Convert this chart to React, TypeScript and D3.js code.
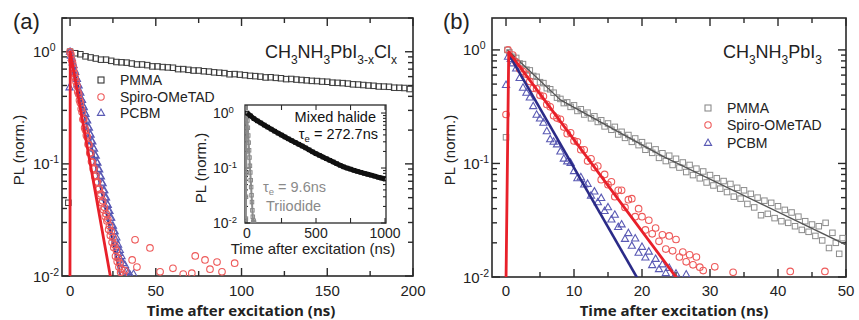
import { useEffect, useRef } from 'react'
import * as d3 from 'd3'

type Pt = [number, number]

// ---- panel (a): CH3NH3PbI3-xClx ----
const pmmaA: Pt[] = [[-1,0.045],[0,1.0],[3,0.97],[6,0.95],[9,0.91],[12,0.89],[15,0.87],[18,0.85],[21,0.85],[24,0.83],[27,0.81],[30,0.805],[33,0.8],[36,0.785],[39,0.77],[42,0.77],[45,0.76],[48,0.74],[51,0.74],[54,0.73],[57,0.725],[60,0.72],[63,0.7],[66,0.7],[69,0.69],[72,0.68],[75,0.68],[78,0.67],[81,0.665],[84,0.655],[87,0.65],[90,0.645],[93,0.63],[96,0.632],[99,0.625],[102,0.618],[105,0.61],[108,0.606],[111,0.6],[114,0.59],[117,0.592],[120,0.585],[123,0.58],[126,0.57],[129,0.572],[132,0.565],[135,0.56],[138,0.556],[141,0.55],[144,0.548],[147,0.542],[150,0.54],[153,0.53],[156,0.528],[159,0.525],[162,0.52],[165,0.512],[168,0.51],[171,0.505],[174,0.5],[177,0.497],[180,0.49],[183,0.489],[186,0.487],[189,0.478],[192,0.477],[195,0.475],[198,0.465]]

const spiroA: Pt[] = [[0,1.0],[0.5,0.95],[1,0.84],[1.5,0.79],[2,0.71],[2.5,0.64],[3,0.59],[3.5,0.54],[4,0.5],[4.5,0.44],[5,0.42],[5.5,0.37],[6,0.35],[6.5,0.31],[7,0.29],[7.5,0.25],[8,0.25],[8.5,0.21],[9,0.2],[9.5,0.18],[10,0.175],[10.5,0.15],[11,0.148],[11.5,0.125],[12,0.125],[12.5,0.105],[13,0.103],[13.5,0.09],[14,0.091],[14.5,0.077],[15,0.079],[15.5,0.068],[16,0.069],[16.5,0.059],[17,0.06],[17.5,0.052],[18,0.054],[18.5,0.045],[19,0.047],[19.5,0.039],[20,0.041],[20.5,0.034],[21,0.036],[21.5,0.031],[22,0.032],[22.5,0.026],[23,0.028],[23.5,0.023],[24,0.025],[24.5,0.02],[25,0.022],[25.5,0.018],[26,0.019],[26.5,0.015],[27,0.017],[27.5,0.0135],[28,0.0145],[28.5,0.012],[29,0.013],[29.5,0.0108],[30,0.0115],[31,0.0103],[32,0.0112],[36.2,0.0139],[37.9,0.021],[39,0.012],[46.6,0.0178],[52.5,0.0109],[60,0.0117],[66,0.0104],[71,0.0106],[73,0.0151],[78.7,0.0139],[81.6,0.0115],[85.7,0.0133],[88.6,0.0109],[96,0.013]]

const pcbmA: Pt[] = [[-0.3,0.48],[0,1.0],[0.5,0.92],[1,0.88],[1.5,0.8],[2,0.76],[2.5,0.69],[3,0.66],[3.5,0.59],[4,0.57],[4.5,0.51],[5,0.5],[5.5,0.44],[6,0.43],[6.5,0.38],[7,0.37],[7.5,0.33],[8,0.32],[8.5,0.285],[9,0.278],[9.5,0.248],[10,0.243],[10.5,0.214],[11,0.21],[11.5,0.185],[12,0.182],[12.5,0.16],[13,0.158],[13.5,0.139],[14,0.136],[14.5,0.12],[15,0.118],[15.5,0.104],[16,0.102],[16.5,0.09],[17,0.089],[17.5,0.078],[18,0.077],[18.5,0.068],[19,0.067],[19.5,0.058],[20,0.058],[20.5,0.05],[21,0.05],[21.5,0.044],[22,0.043],[22.5,0.038],[23,0.038],[23.5,0.033],[24,0.033],[24.5,0.028],[25,0.028],[25.5,0.025],[26,0.025],[26.5,0.021],[27,0.022],[27.5,0.018],[28,0.019],[28.5,0.016],[29,0.017],[29.5,0.014],[30,0.015],[31,0.013],[32,0.0125],[33,0.011],[34,0.0108],[35,0.0102],[37,0.0104]]

const spiroFitA: Pt[] = [[-0.05,0.009],[0.1,1.0],[24,0.009]]
const pcbmFitA: Pt[] = [[0.2,1.0],[29.5,0.0098]]

// ---- inset of (a) ----
const mixedInset: Pt[] = [[0,1.0],[25,0.89],[50,0.79],[75,0.72],[100,0.66],[125,0.605],[150,0.556],[175,0.51],[200,0.468],[225,0.431],[250,0.398],[275,0.367],[300,0.339],[325,0.314],[350,0.292],[375,0.271],[400,0.251],[425,0.232],[450,0.214],[475,0.197],[500,0.182],[525,0.17],[550,0.158],[575,0.148],[600,0.138],[625,0.129],[650,0.12],[675,0.112],[700,0.105],[725,0.1],[750,0.0955],[775,0.091],[800,0.087],[825,0.0836],[850,0.08],[875,0.077],[900,0.074],[925,0.071],[950,0.068],[975,0.0657],[1000,0.063]]
const triiodideInset: Pt[] = [[-8,0.012],[-7,0.03],[-6,0.08],[-5,0.2],[-4,0.5],[-3,0.85],[0,1.0],[3,0.73],[6,0.54],[9,0.39],[12,0.29],[15,0.21],[18,0.155],[21,0.11],[24,0.083],[27,0.06],[30,0.045],[33,0.032],[36,0.024],[39,0.017],[42,0.013],[45,0.0105],[48,0.011],[51,0.0102]]

// ---- panel (b): CH3NH3PbI3 ----
const pmmaB: Pt[] = [[0,0.17],[0.2,1.0],[0.5,0.95],[1,0.87],[1.5,0.85],[2,0.76],[2.5,0.75],[3,0.67],[3.5,0.66],[4,0.59],[4.5,0.58],[5,0.52],[5.5,0.51],[6,0.46],[6.5,0.45],[7,0.42],[7.5,0.38],[8,0.37],[8.5,0.34],[9,0.345],[9.5,0.315],[10,0.325],[10.5,0.29],[11,0.3],[11.5,0.27],[12,0.28],[12.5,0.25],[13,0.26],[13.5,0.232],[14,0.24],[14.5,0.212],[15,0.225],[15.5,0.198],[16,0.21],[16.5,0.18],[17,0.19],[17.5,0.168],[18,0.178],[18.5,0.155],[19,0.166],[19.5,0.145],[20,0.154],[20.5,0.132],[21,0.143],[21.5,0.124],[22,0.133],[22.5,0.112],[23,0.123],[23.5,0.105],[24,0.117],[24.5,0.097],[25,0.11],[25.5,0.092],[26,0.102],[26.5,0.084],[27,0.097],[27.5,0.079],[28,0.09],[28.5,0.074],[29,0.085],[29.5,0.068],[30,0.079],[30.5,0.064],[31,0.074],[31.5,0.06],[32,0.07],[32.5,0.056],[33,0.066],[33.5,0.051],[34,0.061],[34.5,0.049],[35,0.058],[35.5,0.044],[36,0.054],[36.5,0.041],[37,0.05],[37.5,0.035],[38,0.047],[38.5,0.036],[39,0.045],[39.5,0.033],[40,0.042],[40.5,0.031],[41,0.039],[41.5,0.03],[42,0.037],[42.5,0.028],[43,0.034],[43.5,0.026],[44,0.031],[44.5,0.025],[45,0.029],[45.5,0.023],[46,0.028],[46.5,0.021],[47,0.03],[47.5,0.018],[48,0.0245],[48.5,0.02],[49,0.016],[49.5,0.022]]
const pmmaFitB: Pt[] = [[0.2,1.0],[8,0.363],[23,0.116],[50,0.0192]]

const spiroB: Pt[] = [[0,0.27],[0.3,1.0],[1,0.9],[1.5,0.78],[2,0.68],[2.5,0.644],[3,0.61],[3.5,0.528],[4,0.46],[4.5,0.455],[5,0.398],[5.5,0.39],[6,0.331],[6.5,0.315],[7,0.263],[7.5,0.251],[8,0.245],[8.5,0.209],[9,0.183],[9.5,0.186],[10,0.158],[10.5,0.155],[11,0.132],[11.5,0.132],[12,0.105],[12.5,0.11],[13,0.092],[13.5,0.095],[14,0.072],[14.5,0.08],[15,0.065],[15.5,0.069],[16,0.051],[16.5,0.058],[17,0.058],[17.5,0.041],[18,0.048],[18.5,0.049],[19,0.034],[19.5,0.04],[20,0.034],[20.5,0.026],[21,0.0316],[21.5,0.024],[22,0.027],[22.5,0.0206],[23,0.0235],[23.5,0.0176],[24,0.023],[24.5,0.017],[25,0.0214],[25.5,0.015],[26,0.0166],[26.5,0.0136],[27,0.0157],[27.5,0.0128],[28,0.015],[28.5,0.0122],[29,0.0114],[30.7,0.0123],[33.4,0.011],[41.8,0.0112],[46.9,0.0112]]
const spiroFitB: Pt[] = [[0,0.009],[0.4,0.96],[25.1,0.0098]]

const pcbmB: Pt[] = [[0,0.49],[0.3,0.87],[0.7,0.83],[1,0.76],[1.5,0.685],[2,0.565],[2.5,0.464],[3,0.419],[3.5,0.38],[4,0.319],[4.5,0.268],[5,0.248],[5.5,0.228],[6,0.192],[6.5,0.163],[7,0.155],[7.5,0.147],[8,0.127],[8.5,0.11],[9,0.104],[9.5,0.101],[10,0.0855],[10.5,0.074],[11,0.0755],[11.5,0.0652],[12,0.066],[12.5,0.052],[13,0.0565],[13.5,0.0455],[14,0.0495],[14.5,0.038],[15,0.041],[15.5,0.032],[16,0.0353],[16.5,0.0275],[17,0.029],[17.5,0.0216],[18,0.0243],[18.5,0.0188],[19,0.0218],[19.5,0.0163],[20,0.0184],[20.5,0.0148],[21,0.0167],[21.5,0.0127],[22,0.0144],[22.5,0.0117],[23,0.0129],[23.5,0.0108],[24,0.012],[25,0.0107],[26.5,0.0105]]
const pcbmFitB: Pt[] = [[0.5,0.9],[19.3,0.0098]]

// ticks / labels
const xMajorA = [0, 50, 100, 150, 200]
const xMinorA = [25, 75, 125, 175]
const xMajorB = [0, 10, 20, 30, 40, 50]
const xMinorB = [5, 15, 25, 35, 45]
const xTicksInset = [0, 250, 500, 750, 1000]
const xLabelsInset = [0, 500, 1000]
const legendNames = ['PMMA', 'Spiro-OMeTAD', 'PCBM']
const titleA: [string, boolean][] = [['CH', false], ['3', true], ['NH', false], ['3', true], ['PbI', false], ['3-x', true], ['Cl', false], ['x', true]]
const titleB: [string, boolean][] = [['CH', false], ['3', true], ['NH', false], ['3', true], ['PbI', false], ['3', true]]

const FONT = 'Arial, "Liberation Sans", Helvetica, sans-serif'
const BOLD_FONT = '"Open Sans", Arial, "Liberation Sans", sans-serif'
const INK = '#222'
const RED_PT = '#ee5a5a'
const RED_FIT = '#e8202a'
const BLUE_PT = '#5a5ab4'
const BLUE_FIT = '#2b2b88'
const GRAY_PT = '#8c8c8c'

type Sel = d3.Selection<SVGGElement, unknown, null, undefined>
type Lin = d3.ScaleLinear<number, number>
type Lg = d3.ScaleLogarithmic<number, number>

function drawAxes(g: Sel, x: Lin, y: Lg, o: any) {
  const [l, r] = x.range()
  const [b, t] = y.range()
  g.append('rect')
    .attr('x', l).attr('y', t).attr('width', r - l).attr('height', b - t)
    .attr('fill', o.fill || 'none').attr('stroke', '#2a2a2a').attr('stroke-width', o.sw)

  const tick = (x1: number, y1: number, x2: number, y2: number) =>
    g.append('line').attr('x1', x1).attr('y1', y1).attr('x2', x2).attr('y2', y2)
      .attr('stroke', '#2a2a2a').attr('stroke-width', o.tw)

  o.xMajor.forEach((v: number) => {
    tick(x(v), b, x(v), b - o.maj)
    tick(x(v), t, x(v), t + o.maj)
  })
  o.xMinor.forEach((v: number) => {
    tick(x(v), b, x(v), b - o.min)
    tick(x(v), t, x(v), t + o.min)
  })
  o.xLabels.forEach((v: number) => {
    g.append('text').attr('x', x(v)).attr('y', o.xLabY)
      .attr('text-anchor', 'middle').attr('font-family', FONT).attr('font-size', o.fs)
      .attr('fill', INK).text(v)
  })

  y.ticks().forEach(v => {
    const e = Math.log10(v)
    const major = Math.abs(e - Math.round(e)) < 1e-6
    const len = major ? o.maj : o.min
    tick(l, y(v), l + len, y(v))
    tick(r, y(v), r - len, y(v))
    if (major) {
      const tx = g.append('text').attr('x', o.yLabX).attr('y', y(v) + o.yLabDy)
        .attr('font-family', FONT).attr('font-size', o.fs).attr('fill', INK)
      tx.append('tspan').text('10')
      tx.append('tspan').attr('dy', -o.supDy).attr('font-size', o.supFs).text(String(Math.round(e)))
    }
  })
}

function clip(svg: any, id: string, x: Lin, y: Lg) {
  const [l, r] = x.range()
  const [b, t] = y.range()
  svg.select('defs').append('clipPath').attr('id', id)
    .append('rect').attr('x', l).attr('y', t).attr('width', r - l).attr('height', b - t)
}

function squares(g: Sel, data: Pt[], x: Lin, y: Lg, s: number, color: string, sw = 1) {
  g.selectAll(null).data(data).enter().append('rect')
    .attr('x', d => x(d[0]) - s / 2).attr('y', d => y(d[1]) - s / 2)
    .attr('width', s).attr('height', s)
    .attr('fill', 'none').attr('stroke', color).attr('stroke-width', sw)
}

function circles(g: Sel, data: Pt[], x: Lin, y: Lg, r: number, color: string) {
  g.selectAll(null).data(data).enter().append('circle')
    .attr('cx', d => x(d[0])).attr('cy', d => y(d[1])).attr('r', r)
    .attr('fill', 'none').attr('stroke', color).attr('stroke-width', 1.1)
}

const triPath = 'M0,-4L3.6,2.4L-3.6,2.4Z'
function triangles(g: Sel, data: Pt[], x: Lin, y: Lg, color: string) {
  g.selectAll(null).data(data).enter().append('path')
    .attr('d', triPath).attr('transform', d => `translate(${x(d[0])},${y(d[1])})`)
    .attr('fill', 'none').attr('stroke', color).attr('stroke-width', 1.1)
}

function fit(g: Sel, data: Pt[], x: Lin, y: Lg, color: string, w: number) {
  const line = d3.line<Pt>().x(d => x(d[0])).y(d => y(d[1]))
  g.append('path').attr('d', line(data)).attr('fill', 'none')
    .attr('stroke', color).attr('stroke-width', w).attr('stroke-linejoin', 'round')
}

function chem(g: Sel, xEnd: number, yBase: number, parts: [string, boolean][], fs: number, subFs: number) {
  const tx = g.append('text').attr('x', xEnd).attr('y', yBase).attr('text-anchor', 'end')
    .attr('font-family', FONT).attr('font-size', fs).attr('fill', INK)
  let down = false
  parts.forEach(([s, sub]) => {
    const ts = tx.append('tspan').text(s)
    if (sub && !down) { ts.attr('dy', 6).attr('font-size', subFs); down = true }
    else if (!sub && down) { ts.attr('dy', -6); down = false }
    else if (sub) ts.attr('font-size', subFs)
  })
}

function legend(g: Sel, mx: number, tx: number, ys: number[], firstColor: string) {
  const colors = [firstColor, RED_PT, BLUE_PT]
  legendNames.forEach((name, i) => {
    const cy = ys[i]
    if (i === 0) {
      g.append('rect').attr('x', mx - 3).attr('y', cy - 3).attr('width', 6).attr('height', 6)
        .attr('fill', 'none').attr('stroke', colors[0]).attr('stroke-width', 1.1)
    } else if (i === 1) {
      g.append('circle').attr('cx', mx).attr('cy', cy).attr('r', 3.2)
        .attr('fill', 'none').attr('stroke', colors[1]).attr('stroke-width', 1.1)
    } else {
      g.append('path').attr('d', triPath).attr('transform', `translate(${mx},${cy})`)
        .attr('fill', 'none').attr('stroke', colors[2]).attr('stroke-width', 1.1)
    }
    g.append('text').attr('x', tx).attr('y', cy + 5).attr('font-family', FONT)
      .attr('font-size', 14).attr('fill', INK).text(name)
  })
}

function yTitle(g: Sel, x: number, y: number, fs: number) {
  g.append('text').attr('transform', `translate(${x},${y}) rotate(-90)`)
    .attr('text-anchor', 'middle').attr('font-family', FONT).attr('font-size', fs)
    .attr('fill', INK).text('PL (norm.)')
}

export default function App() {
  const svgRef = useRef<SVGSVGElement>(null)

  useEffect(() => {
    if (!svgRef.current) return
    const svg = d3.select(svgRef.current)
    svg.selectAll('*').remove()
    svg.append('defs')
    const root = svg.append('g') as unknown as Sel

    const aX = d3.scaleLinear().domain([-4.7, 200]).range([62, 413])
    const aY = d3.scaleLog().domain([0.01, 2.0]).range([276, 18])
    const bX = d3.scaleLinear().domain([-2.06, 50]).range([492, 846])
    const bY = d3.scaleLog().domain([0.01, 1.91]).range([277, 18])
    const iX = d3.scaleLinear().domain([-14.5, 1007]).range([245, 386])
    const iY = d3.scaleLog().domain([0.01, 1.4]).range([223, 105])

    clip(svg, 'clipA', aX, aY)
    clip(svg, 'clipB', bX, bY)
    clip(svg, 'clipI', iX, iY)

    const mainOpts = { sw: 1.6, tw: 1.4, maj: 8, min: 5, fs: 15, supFs: 10.5, supDy: 6 }

    // ---------- panel (a) ----------
    drawAxes(root, aX, aY, { ...mainOpts, xMajor: xMajorA, xMinor: xMinorA, xLabels: xMajorA, xLabY: 296, yLabX: 33, yLabDy: 5.5 })
    const pa = root.append('g').attr('clip-path', 'url(#clipA)') as unknown as Sel
    squares(pa, pmmaA, aX, aY, 5.5, '#3a3a3a')
    fit(pa, pcbmFitA, aX, aY, BLUE_FIT, 2.2)
    triangles(pa, pcbmA, aX, aY, BLUE_PT)
    circles(pa, spiroA, aX, aY, 3.3, RED_PT)
    fit(pa, spiroFitA, aX, aY, RED_FIT, 2.8)

    legend(root, 101, 120, [80, 97, 113], '#333')
    chem(root, 397, 58, titleA, 18, 12)
    root.append('text').attr('x', 13).attr('y', 29).attr('font-family', FONT)
      .attr('font-size', 22).attr('fill', INK).text('(a)')
    yTitle(root, 24, 150, 15)
    root.append('text').attr('x', 241).attr('y', 316).attr('text-anchor', 'middle')
      .attr('font-family', BOLD_FONT).attr('font-weight', 'bold').attr('font-size', 15)
      .attr('fill', INK).text('Time after excitation (ns)')

    // ---------- inset ----------
    drawAxes(root, iX, iY, {
      sw: 1.3, tw: 1.1, maj: 5, min: 3, fs: 14, supFs: 9.5, supDy: 5, fill: '#fff',
      xMajor: xTicksInset, xMinor: [], xLabels: xLabelsInset, xLabY: 238, yLabX: 213, yLabDy: 5
    })
    const pi = root.append('g').attr('clip-path', 'url(#clipI)') as unknown as Sel
    fit(pi, triiodideInset, iX, iY, GRAY_PT, 2)
    squares(pi, triiodideInset, iX, iY, 3.5, '#888')
    fit(pi, mixedInset, iX, iY, '#111', 5)
    squares(pi, mixedInset, iX, iY, 3.5, '#111')
    root.append('text').attr('x', 376).attr('y', 122).attr('text-anchor', 'end')
      .attr('font-family', FONT).attr('font-size', 14.5).attr('fill', '#111').text('Mixed halide')
    const t1 = root.append('text').attr('x', 378).attr('y', 139).attr('text-anchor', 'end')
      .attr('font-family', FONT).attr('font-size', 14.5).attr('fill', '#111')
    t1.append('tspan').text('τ')
    t1.append('tspan').attr('dy', 3).attr('font-size', 9.5).text('e')
    t1.append('tspan').attr('dy', -3).text(' = 272.7ns')
    const t2 = root.append('text').attr('x', 263).attr('y', 192)
      .attr('font-family', FONT).attr('font-size', 14.5).attr('fill', '#8a8a8a')
    t2.append('tspan').text('τ')
    t2.append('tspan').attr('dy', 3).attr('font-size', 9.5).text('e')
    t2.append('tspan').attr('dy', -3).text(' = 9.6ns')
    root.append('text').attr('x', 266).attr('y', 211)
      .attr('font-family', FONT).attr('font-size', 14.5).attr('fill', '#8a8a8a').text('Triiodide')
    yTitle(root, 206, 168, 15)
    root.append('text').attr('x', 313).attr('y', 254).attr('text-anchor', 'middle')
      .attr('font-family', FONT).attr('font-size', 15).attr('fill', INK).text('Time after excitation (ns)')

    // ---------- panel (b) ----------
    drawAxes(root, bX, bY, { ...mainOpts, xMajor: xMajorB, xMinor: xMinorB, xLabels: xMajorB, xLabY: 296, yLabX: 463, yLabDy: 5.5 })
    const pb = root.append('g').attr('clip-path', 'url(#clipB)') as unknown as Sel
    squares(pb, pmmaB, bX, bY, 5.5, GRAY_PT)
    fit(pb, pmmaFitB, bX, bY, '#555', 1.3)
    triangles(pb, pcbmB, bX, bY, BLUE_PT)
    circles(pb, spiroB, bX, bY, 3.3, RED_PT)
    fit(pb, pcbmFitB, bX, bY, BLUE_FIT, 2.6)
    fit(pb, spiroFitB, bX, bY, RED_FIT, 2.8)

    legend(root, 708, 727, [108, 125, 143], GRAY_PT)
    chem(root, 822, 58, titleB, 18, 12)
    root.append('text').attr('x', 443).attr('y', 29).attr('font-family', FONT)
      .attr('font-size', 22).attr('fill', INK).text('(b)')
    yTitle(root, 455, 150, 15)
    root.append('text').attr('x', 674).attr('y', 316).attr('text-anchor', 'middle')
      .attr('font-family', BOLD_FONT).attr('font-weight', 'bold').attr('font-size', 15)
      .attr('fill', INK).text('Time after excitation (ns)')
  }, [])

  return (
    <div style={{ position: 'absolute', left: 0, top: 0 }}>
      <svg ref={svgRef} width={859} height={320} style={{ display: 'block', background: '#fff' }} />
    </div>
  )
}
